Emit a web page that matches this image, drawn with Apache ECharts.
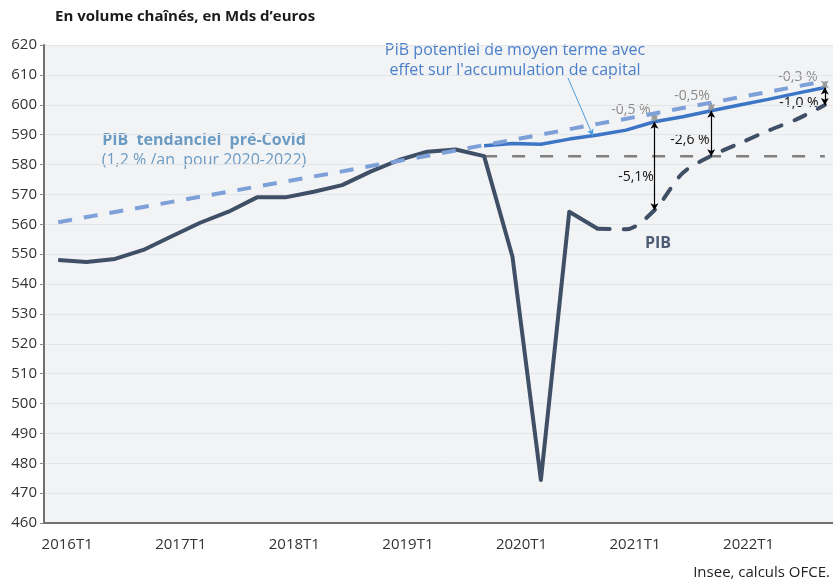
<!DOCTYPE html>
<html>
<head>
<meta charset="utf-8">
<script src="https://cdn.jsdelivr.net/npm/echarts@6.0.0/dist/echarts.min.js"></script>
<style>
  html, body { margin: 0; padding: 0; background: #fff; overflow: hidden; }
  #chart { width: 839px; height: 580px; }
</style>
</head>
<body>
<div id="chart"></div>
<script>
// trimestres 2016T1 - 2022T4
var trimestres = ['2016T1','2016T2','2016T3','2016T4','2017T1','2017T2','2017T3','2017T4',
  '2018T1','2018T2','2018T3','2018T4','2019T1','2019T2','2019T3','2019T4',
  '2020T1','2020T2','2020T3','2020T4','2021T1','2021T2','2021T3','2021T4',
  '2022T1','2022T2','2022T3','2022T4'];

// PIB observe (2016T1 -> 2020T4)
var pibObserve = [548.0, 547.4, 548.4, 551.4, 556.0, 560.5, 564.2, 569.0, 569.0, 570.9,
  573.1, 577.6, 581.5, 584.3, 585.0, 582.8, 549.1, 474.4, 564.2, 558.5];
// PIB prevu (2020T4 -> 2022T4)
var pibPrevu = [558.5, 558.3, 564.7, 577.2, 582.9, 587.1, 591.3, 595.1, 599.9];
var debutPrevu = 19;
// PIB potentiel (2019T4 -> 2022T4)
var pibPotentiel = [586.3, 587.0, 586.8, 588.5, 589.9, 591.5, 594.3, 596.0, 598.0, 599.9,
  601.8, 603.8, 605.8];
var debutPotentiel = 15;
// PIB tendanciel pre-Covid (2016T1 -> 2022T4)
var pibTendanciel = [560.7, 562.4, 564.1, 565.8, 567.5, 569.2, 570.9, 572.6, 574.3, 576.0,
  577.7, 579.5, 581.2, 582.9, 584.7, 586.5, 588.2, 590.0, 591.8, 593.6, 595.3, 597.1,
  598.9, 600.7, 602.5, 604.3, 606.1, 607.9];
// niveau d'avant crise (2019T4)
var niveauPreCovid = 582.8;

function decale(valeurs, debut) {
  var out = [];
  for (var i = 0; i < trimestres.length; i++) {
    var k = i - debut;
    out.push(k >= 0 && k < valeurs.length ? valeurs[k] : null);
  }
  return out;
}

var potentiel = decale(pibPotentiel, debutPotentiel);
var prevu = decale(pibPrevu, debutPrevu);
var niveau = [];
for (var i = 0; i < trimestres.length; i++) {
  niveau.push(i >= 15 ? niveauPreCovid : null);
}
var pibComplet = pibObserve.concat(pibPrevu.slice(1));

var police = '"Open Sans", "Noto Sans", sans-serif';

// fleches d'ecart
function fleche(idx, v1, v2, couleur) {
  return [
    { coord: [trimestres[idx], v1], lineStyle: { color: couleur } },
    { coord: [trimestres[idx], v2] }
  ];
}

function texte(x, y, t, font, couleur) {
  return {
    type: 'text', x: x, y: y,
    style: { text: t, font: font, fill: couleur, align: 'center', verticalAlign: 'middle' }
  };
}

var myChart = echarts.init(document.getElementById('chart'));

myChart.setOption({
  animation: false,
  textStyle: { fontFamily: police },
  grid: {
    left: 44,
    top: 45,
    bottom: 57,
    right: 0,
    show: true,
    backgroundColor: '#f2f3f5',
    borderWidth: 0
  },
  xAxis: [
    {
      type: 'category',
      data: trimestres,
      boundaryGap: true,
      axisLine: { lineStyle: { color: '#707070', width: 2 } },
      axisTick: { interval: 0, length: 3, lineStyle: { color: '#8a8a8a' } },
      axisLabel: {
        interval: 3,
        margin: 14,
        color: '#333',
        fontSize: 15,
        fontFamily: police,
        formatter: function (v) { return '{a|' + v + '}'; },
        rich: { a: { padding: [0, 0, 0, 18], fontSize: 15, color: '#333', fontFamily: police } }
      },
      splitLine: { show: false }
    },
    {
      type: 'category',
      data: trimestres,
      position: 'bottom',
      boundaryGap: true,
      axisLine: { show: false },
      axisTick: { interval: 3, length: 5, lineStyle: { color: '#8a8a8a' } },
      axisLabel: { show: false }
    }
  ],
  yAxis: {
    type: 'value',
    min: 460,
    max: 620,
    interval: 10,
    axisLine: { show: true, lineStyle: { color: '#707070', width: 2 } },
    axisTick: { show: true, length: 4, lineStyle: { color: '#8a8a8a' } },
    axisLabel: { color: '#333', fontSize: 15, margin: 7, fontFamily: police },
    splitLine: { lineStyle: { color: '#e4e5e8', width: 1 } }
  },
  series: [
    {
      name: 'Niveau pré-Covid',
      type: 'line',
      data: niveau,
      symbol: 'none',
      lineStyle: { color: '#808080', width: 2.5, type: [13, 15] },
      z: 2
    },
    {
      name: 'PIB',
      type: 'line',
      data: pibObserve,
      symbol: 'none',
      lineStyle: { color: '#3e4f66', width: 4, join: 'round' },
      z: 3
    },
    {
      name: 'PIB prévu',
      type: 'line',
      data: prevu,
      symbol: 'none',
      smooth: 0.3,
      lineStyle: { color: '#3e4f66', width: 4, type: [12, 14], cap: 'round' },
      z: 3
    },
    {
      name: 'PIB potentiel',
      type: 'line',
      data: potentiel,
      symbol: 'none',
      lineStyle: { color: '#3c75c6', width: 3.5 },
      z: 4,
      markLine: {
        silent: true,
        symbol: ['none', 'arrow'],
        symbolSize: [5, 7],
        label: { show: false },
        lineStyle: { color: '#4a9de0', width: 1, type: 'solid' },
        data: [[{ x: 568, y: 78 }, { x: 593, y: 136 }]]
      }
    },
    {
      name: 'PIB tendanciel',
      type: 'line',
      data: pibTendanciel,
      symbol: 'none',
      lineStyle: { color: '#7ea0d8', width: 4, type: [14, 12] },
      z: 5,
      markLine: {
        silent: true,
        symbol: ['arrow', 'arrow'],
        symbolSize: [6, 7],
        label: { show: false },
        lineStyle: { width: 1.2, type: 'solid', color: '#999' },
        data: [
          fleche(21, pibTendanciel[21], potentiel[21], '#9a9a9a'),
          fleche(23, pibTendanciel[23], potentiel[23], '#9a9a9a'),
          fleche(27, pibTendanciel[27], potentiel[27], '#9a9a9a'),
          fleche(21, potentiel[21], pibComplet[21], '#000'),
          fleche(23, potentiel[23], niveauPreCovid, '#000'),
          fleche(27, potentiel[27], pibComplet[27], '#000')
        ]
      }
    }
  ],
  graphic: [
    {
      type: 'text', left: 55, top: 9,
      style: { text: 'En volume chaînés, en Mds d\u2019euros', font: 'bold 15px ' + police, fill: '#1a1a1a' }
    },
    {
      type: 'text', right: 9, bottom: 0,
      style: { text: 'Insee, calculs OFCE.', font: '15px ' + police, fill: '#222' }
    },
    texte(515, 50, 'PIB potentiel de moyen terme avec', '16px ' + police, '#4a7fc9'),
    texte(515, 70, 'effet sur l\'accumulation de capital', '16px ' + police, '#4a7fc9'),
    texte(204, 140, 'PIB  tendanciel  pré-Covid', 'bold 16px ' + police, '#6b9bc3'),
    texte(204, 160, '(1,2 % /an  pour 2020-2022)', '16px ' + police, '#6b9bc3'),
    texte(658, 243, 'PIB', 'bold 16px ' + police, '#4b5c74'),
    texte(631, 110, '-0,5 %', '14px ' + police, '#8a8a8a'),
    texte(692, 96, '-0,5%', '14px ' + police, '#8a8a8a'),
    texte(798, 77, '-0,3 %', '14px ' + police, '#8a8a8a'),
    texte(636, 177, '-5,1%', '14px ' + police, '#111'),
    texte(690, 140, '-2,6 %', '14px ' + police, '#111'),
    texte(799, 103, '-1,0 %', '14px ' + police, '#111')
  ]
});
</script>
</body>
</html>
